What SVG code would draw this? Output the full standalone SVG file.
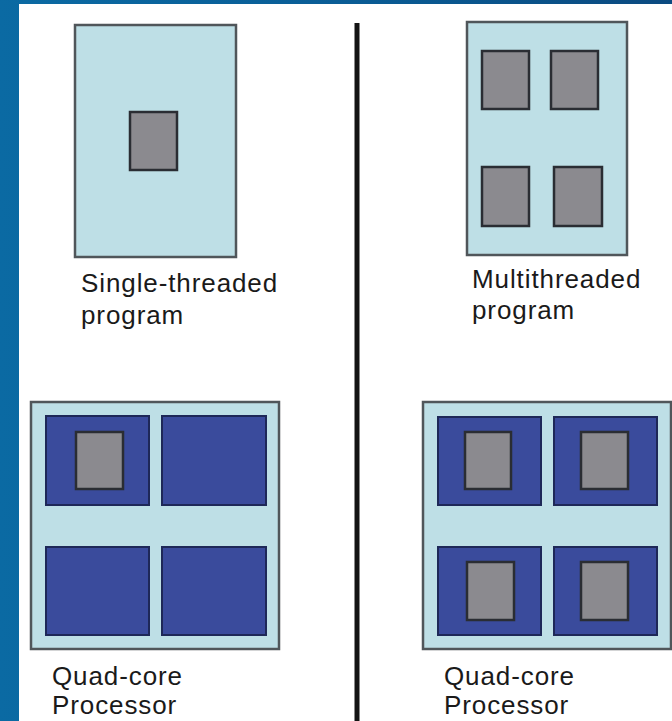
<svg xmlns="http://www.w3.org/2000/svg" width="672" height="721" viewBox="0 0 672 721">
  <defs>
    <linearGradient id="frameGrad" x1="0" y1="0" x2="1" y2="0">
      <stop offset="0" stop-color="#0b6aa3"/>
      <stop offset="0.5" stop-color="#0a5d96"/>
      <stop offset="1" stop-color="#0b4a80"/>
    </linearGradient>
  </defs>
  <style>
    .box { fill: #bedfe6; stroke: #50565a; stroke-width: 2.5; }
    .core { fill: #3a4b9c; stroke: #1e2858; stroke-width: 2; }
    .thread { fill: #8b8a8f; stroke: #2a2d33; stroke-width: 2.5; }
    .label { font-family: "Liberation Sans", Arial, sans-serif; font-size: 26px; letter-spacing: 0.9px; fill: #1a1a1a; }
  </style>

  <!-- slide frame -->
  <rect x="0" y="0" width="672" height="721" fill="url(#frameGrad)"/>
  <rect x="19" y="4" width="653" height="717" fill="#ffffff"/>

  <!-- divider -->
  <g id="connectors">
    <line x1="357" y1="23" x2="357" y2="721" stroke="#141414" stroke-width="5"/>
  </g>

  <!-- single-threaded program -->
  <g id="single-threaded-program">
    <rect class="box" x="75" y="25" width="161" height="232"/>
    <rect class="thread" x="130" y="112" width="47" height="58"/>
    <text class="label" x="81" y="292">Single-threaded</text>
    <text class="label" x="81" y="324">program</text>
  </g>

  <!-- multithreaded program -->
  <g id="multithreaded-program">
    <rect class="box" x="467" y="22" width="160" height="233"/>
    <rect class="thread" x="482" y="51" width="47" height="58"/>
    <rect class="thread" x="551" y="51" width="47" height="58"/>
    <rect class="thread" x="482" y="167" width="47" height="59"/>
    <rect class="thread" x="554" y="167" width="48" height="59"/>
    <text class="label" x="472" y="288">Multithreaded</text>
    <text class="label" x="472" y="319">program</text>
  </g>

  <!-- quad-core processor running one thread -->
  <g id="quad-core-single">
    <rect class="box" x="31" y="402" width="248" height="247"/>
    <rect class="core" x="46" y="416" width="103" height="89"/>
    <rect class="core" x="162" y="416" width="104" height="89"/>
    <rect class="core" x="46" y="547" width="103" height="88"/>
    <rect class="core" x="162" y="547" width="104" height="88"/>
    <rect class="thread" x="76" y="432" width="47" height="57"/>
    <text class="label" x="52" y="685">Quad-core</text>
    <text class="label" x="52" y="714">Processor</text>
  </g>

  <!-- quad-core processor running four threads -->
  <g id="quad-core-multi">
    <rect class="box" x="423" y="402" width="248" height="247"/>
    <rect class="core" x="438" y="417" width="103" height="88"/>
    <rect class="core" x="554" y="417" width="103" height="88"/>
    <rect class="core" x="438" y="547" width="103" height="88"/>
    <rect class="core" x="554" y="547" width="103" height="88"/>
    <rect class="thread" x="465" y="432" width="46" height="57"/>
    <rect class="thread" x="581" y="432" width="47" height="57"/>
    <rect class="thread" x="467" y="562" width="47" height="58"/>
    <rect class="thread" x="581" y="562" width="47" height="58"/>
    <text class="label" x="444" y="685">Quad-core</text>
    <text class="label" x="444" y="714">Processor</text>
  </g>
</svg>
